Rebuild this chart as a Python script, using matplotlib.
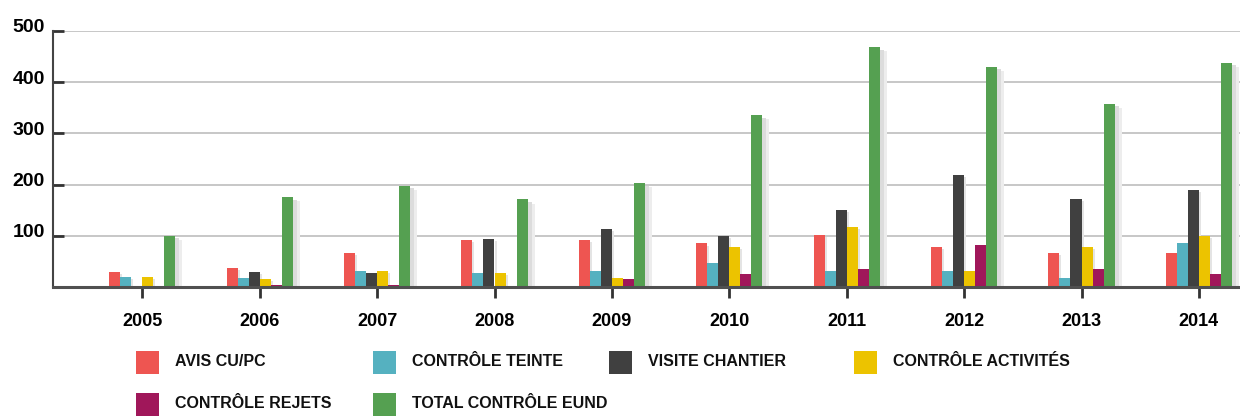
import numpy as np
import matplotlib
matplotlib.use("Agg")
from matplotlib import pyplot as plt
from matplotlib.patches import Rectangle
from matplotlib.transforms import ScaledTranslation

years = ['2005', '2006', '2007', '2008', '2009', '2010', '2011', '2012', '2013', '2014']
avis_cu_pc = [30, 38, 66, 92, 92, 85, 102, 79, 66, 67]
controle_teinte = [20, 17, 32, 27, 32, 46, 32, 32, 18, 85]
visite_chantier = [0, 30, 27, 93, 114, 100, 150, 218, 171, 190]
controle_activites = [19, 16, 32, 27, 18, 78, 117, 32, 79, 99]
controle_rejets = [0, 3, 4, 0, 16, 25, 35, 82, 36, 26]
total_eund = [100, 175, 198, 171, 203, 336, 468, 430, 358, 438]

series_names = ['AVIS CU/PC', 'CONTRÔLE TEINTE', 'VISITE CHANTIER',
                'CONTRÔLE ACTIVITÉS', 'CONTRÔLE REJETS', 'TOTAL CONTRÔLE EUND']
series_colors = ['#ee5551', '#55b1c0', '#404040', '#ecc300', '#a0175a', '#55a051']
series = [avis_cu_pc, controle_teinte, visite_chantier,
          controle_activites, controle_rejets, total_eund]

W, H = 1240, 417
fig = plt.figure(figsize=(W / 100, H / 100), dpi=100)
ax = fig.add_axes([53 / W, 130 / H, 1187 / W, 256 / H])

x = np.arange(len(years))
w = 0.094          # one bar, ~11 px
px_unit = 1 / 117.4  # one pixel in x data units
for k, (vals, col) in enumerate(zip(series, series_colors)):
    off = (k - 2.5) * w
    vals = np.array(vals, dtype=float)
    if k == len(series) - 1:
        # soft drop shadow on the right of the total bars
        ax.bar(x + off + w / 2 + 3.5 * px_unit, np.clip(vals - 8, 0, None), width=7 * px_unit,
               color='#ededed', zorder=1, linewidth=0)
        ax.bar(x + off + w / 2 + 2 * px_unit, np.clip(vals - 5, 0, None), width=4 * px_unit,
               color='#dcdcdc', zorder=1, linewidth=0)
    else:
        ax.bar(x + off + w / 2 + 1 * px_unit, np.clip(vals - 4, 0, None), width=2 * px_unit,
               color='#e4e4e4', zorder=1, linewidth=0)
    ax.bar(x + off, vals, width=w, color=col, zorder=3, linewidth=0)

ax.set_xlim((53 - 142.3) / 117.4, (1240 - 142.3) / 117.4)
ax.set_ylim(0, 500)

ax.set_yticks([0, 100, 200, 300, 400, 500])
ax.set_yticklabels(['', '100', '200', '300', '400', '500'],
                   fontsize=14, fontweight='bold', family=['Liberation Sans', 'DejaVu Sans'])
ax.set_xticks(x)
ax.set_xticklabels(years, fontsize=13, fontweight='bold', family=['Liberation Sans', 'DejaVu Sans'])

ax.tick_params(axis='y', direction='in', length=8, width=2, color='#333333', pad=6)
ax.tick_params(axis='x', direction='out', length=8, width=2, color='#333333', pad=11)
for lab in ax.get_yticklabels():
    lab.set_transform(lab.get_transform() + ScaledTranslation(0, 5 / 100, fig.dpi_scale_trans))

ax.yaxis.grid(True, color='#bdbdbd', linewidth=1.2)
ax.set_axisbelow(True)
for s in ['top', 'right']:
    ax.spines[s].set_visible(False)
ax.spines['left'].set_color('#444444')
ax.spines['left'].set_linewidth(1.5)
ax.spines['bottom'].set_color('#505050')
ax.spines['bottom'].set_linewidth(2.2)
ax.spines['bottom'].set_zorder(4)

# legend, two rows by hand
leg_x = [136, 373, 609, 854]
leg_y = [362, 404]
for i, (name, col) in enumerate(zip(series_names, series_colors)):
    px = leg_x[i % 4]
    py = leg_y[i // 4]
    fig.patches.append(Rectangle((px / W, (H - py - 11.5) / H), 23 / W, 23 / H,
                                 transform=fig.transFigure, color=col, linewidth=0))
    fig.text((px + 39) / W, (H - py) / H, name, fontsize=11.5, fontweight='bold',
             va='center', ha='left', color='#111111',
             family=['Liberation Sans', 'DejaVu Sans'])

fig.savefig('out.png', dpi=100)
